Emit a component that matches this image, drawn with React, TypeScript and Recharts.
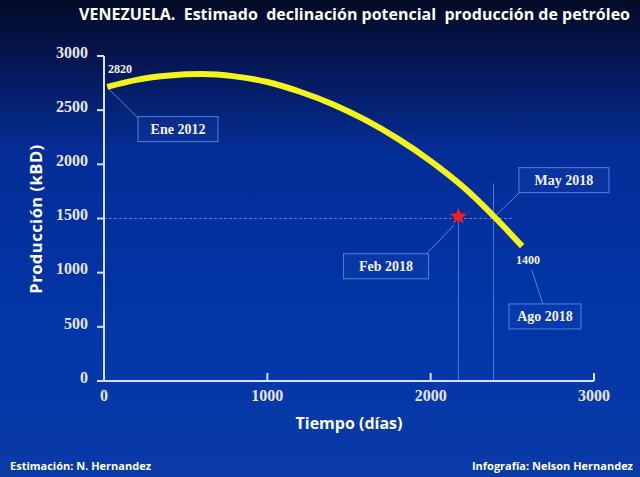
import React from 'react'
import {
  ComposedChart, Line, Scatter, XAxis, YAxis, ReferenceLine, ReferenceDot,
} from 'recharts'

// días desde Ene 2012 vs producción estimada (kBD)
const days = [20, 200, 400, 600, 800, 1000, 1200, 1400, 1600, 1800, 2000, 2200, 2400, 2560]
const production = [2715, 2780, 2820, 2833, 2812, 2760, 2670, 2555, 2410, 2235, 2030, 1790, 1500, 1245]

const xTicks = [0, 1000, 2000, 3000]
const yTicks = [0, 500, 1000, 1500, 2000, 2500, 3000]

// Feb 2018 punto real
const starDay = [2170]
const starValue = [1518]

// etiquetas: texto, centro (día, valor), ancho de caja
const noteText = ['Ene 2012', 'May 2018', 'Feb 2018', 'Ago 2018']
const noteDay = [453, 2816, 1727, 2700]
const noteValue = [2325, 1854, 1059, 596]
const noteWidth = [80, 90, 85, 72]

// conectores: [día1, valor1, día2, valor2]
const connectors = [
  [24, 2704, 208, 2426],
  [2400, 1530, 2547, 1743],
  [1978, 1179, 2143, 1440],
  [2688, 706, 2620, 1021],
]

const lineData = days.map((d, i) => ({ t: d, v: production[i] }))
const starData = starDay.map((d, i) => ({ t: d, v: starValue[i] }))

const serif = '"Liberation Serif", "DejaVu Serif", serif'
const sans = '"Open Sans", "DejaVu Sans", sans-serif'
const guide = '#3f7fd6'

const StarShape = (props: any) => {
  const { cx, cy } = props
  const pts: string[] = []
  for (let i = 0; i < 10; i++) {
    const r = i % 2 === 0 ? 9 : 3.8
    const a = -Math.PI / 2 + (i * Math.PI) / 5
    pts.push(`${cx + r * Math.cos(a)},${cy + r * Math.sin(a)}`)
  }
  return <polygon points={pts.join(' ')} fill="#ff1a1a" />
}

const noteBox = (text: string, w: number) => (props: any) => {
  const { cx, cy } = props
  return (
    <g>
      <rect x={cx - w / 2} y={cy - 12.5} width={w} height={25} fill="rgba(40,90,200,0.15)" stroke="#4d86d6" strokeWidth={1} />
      <text x={cx} y={cy + 5} textAnchor="middle" fill="#f2f2f2" fontFamily={serif} fontWeight="bold" fontSize={14}>{text}</text>
    </g>
  )
}

const plainText = (text: string, anchor: 'start' | 'middle') => (props: any) => (
  <text x={props.cx} y={props.cy + 4} textAnchor={anchor} fill="#f2f2f2" fontFamily={serif} fontWeight="bold" fontSize={12}>{text}</text>
)

export default function App() {
  return (
    <div style={{
      position: 'absolute', left: 0, top: 0, width: 640, height: 477, overflow: 'hidden',
      background: 'linear-gradient(180deg, #040b26 0%, #061550 12%, #042d98 32%, #0236a8 70%, #0a3aa6 100%)',
    }}>
      <div style={{ position: 'absolute', right: 10, top: 3, color: '#fff', fontFamily: sans, fontWeight: 700, fontSize: 16, whiteSpace: 'pre' }}>
        {'VENEZUELA.  Estimado  declinación potencial  producción de petróleo'}
      </div>
      <div style={{
        position: 'absolute', left: 35, top: 219, transform: 'translate(-50%, -50%) rotate(-90deg)',
        color: '#fff', fontFamily: sans, fontWeight: 700, fontSize: 16.5, letterSpacing: 0.5, whiteSpace: 'pre',
      }}>Producción (kBD)</div>
      <div style={{
        position: 'absolute', left: 349, top: 423, transform: 'translate(-50%, -50%)',
        color: '#fff', fontFamily: sans, fontWeight: 700, fontSize: 16, whiteSpace: 'pre',
      }}>Tiempo (días)</div>
      <div style={{ position: 'absolute', left: 10, top: 458, color: '#fff', fontFamily: sans, fontWeight: 700, fontSize: 11 }}>
        Estimación: N. Hernandez
      </div>
      <div style={{ position: 'absolute', right: 7, top: 458, color: '#fff', fontFamily: sans, fontWeight: 700, fontSize: 11 }}>
        Infografía: Nelson Hernandez
      </div>

      <ComposedChart width={640} height={477} margin={{ top: 56, right: 46, bottom: 56, left: 44 }}
        style={{ position: 'absolute', left: 0, top: 0 }}>
        <XAxis dataKey="t" type="number" domain={[0, 3000]} ticks={xTicks} height={40}
          axisLine={{ stroke: '#d6e0f2', strokeWidth: 2 }}
          tickLine={{ stroke: '#d6e0f2', strokeWidth: 2 }} tickSize={-8} tickMargin={17}
          tick={{ fill: '#e6e6ea', fontFamily: serif, fontWeight: 'bold', fontSize: 16 }} />
        <YAxis dataKey="v" type="number" domain={[0, 3000]} ticks={yTicks} width={60}
          axisLine={{ stroke: '#d6e0f2', strokeWidth: 2 }}
          tickLine={{ stroke: '#d6e0f2', strokeWidth: 2 }} tickSize={7} tickMargin={9}
          tick={{ fill: '#e6e6ea', fontFamily: serif, fontWeight: 'bold', fontSize: 16, dy: -4 }} />

        <ReferenceLine segment={[{ x: 0, y: 1500 }, { x: 2515, y: 1500 }]} stroke={guide} strokeWidth={1} strokeDasharray="3 2" />
        <ReferenceLine segment={[{ x: starDay[0], y: 0 }, { x: starDay[0], y: 1480 }]} stroke={guide} strokeWidth={1} />
        <ReferenceLine segment={[{ x: 2385, y: 0 }, { x: 2385, y: 1825 }]} stroke={guide} strokeWidth={1} />
        {connectors.map((c, i) => (
          <ReferenceLine key={`c-${i}`} segment={[{ x: c[0], y: c[1] }, { x: c[2], y: c[3] }]} stroke="#4a8ad8" strokeWidth={1} />
        ))}

        <Line data={lineData} dataKey="v" type="monotone" stroke="#f4f41c" strokeWidth={6} dot={false}
          isAnimationActive={false} />
        <Scatter data={starData} dataKey="v" shape={StarShape} isAnimationActive={false} />

        {noteText.map((t, i) => (
          <ReferenceDot key={`n-${i}`} x={noteDay[i]} y={noteValue[i]} shape={noteBox(t, noteWidth[i])} />
        ))}
        <ReferenceDot x={24} y={2880} shape={plainText('2820', 'start')} />
        <ReferenceDot x={2596} y={1113} shape={plainText('1400', 'middle')} />
      </ComposedChart>
    </div>
  )
}
